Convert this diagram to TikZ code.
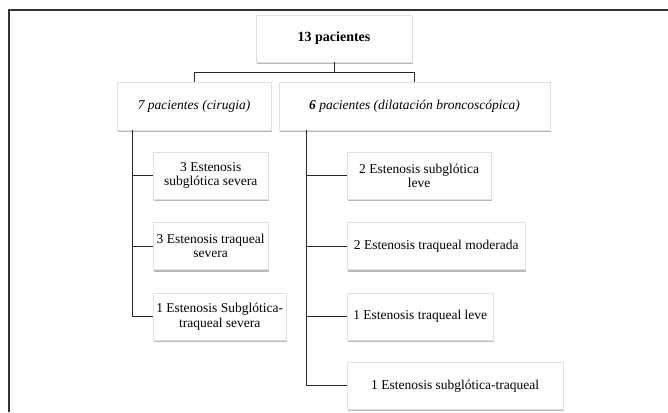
\documentclass[tikz,border=0pt]{standalone}
\usepackage{fontspec}
\setmainfont{Liberation Serif}
\usetikzlibrary{positioning,shadows}

\tikzset{
  box/.style={draw=black!12, fill=white, drop shadow={shadow xshift=1.2pt, shadow yshift=-2pt, fill=black!50, opacity=.55}, minimum height=47pt, inner sep=2pt, align=center, font=\fontsize{13.5}{14.5}\selectfont},
  link/.style={draw=black!85, line width=1pt},
  frame/.style={draw=black!80, line width=1.5pt},
}

\begin{document}
\begin{tikzpicture}[x=1pt, y=-1pt]
    \useasboundingbox (0,0) rectangle (668,412);
    \draw[frame] (9,412) -- (9,10) -- (668,10);
    \node[box, minimum width=156pt, font=\fontsize{14}{15}\selectfont\bfseries] (total) at (334,38.5) {13 pacientes};
    \node[box, minimum width=154pt, minimum height=48pt, font=\fontsize{13.5}{14.5}\selectfont\itshape] (surg) at (194,106) {7 pacientes (cirugia)};
    \node[box, minimum width=271pt, minimum height=48pt, font=\fontsize{13.5}{14.5}\selectfont\itshape] (dil) at (414.5,106) {\textbf{6} pacientes (dilatación broncoscópica)};
    \node[box, anchor=north west, minimum width=115pt] (surg1) at (153,152) {3 Estenosis\\subglótica severa};
    \node[box, below=23pt of surg1.south west, anchor=north west, minimum width=115pt] (surg2) {3 Estenosis traqueal\\severa};
    \node[box, below=23pt of surg2.south west, anchor=north west, minimum width=133pt] (surg3) {1 Estenosis Subglótica-\\traqueal severa};
    \node[box, anchor=north west, minimum width=144pt] (dil1) at (347,152) {2 Estenosis subglótica\\leve};
    \node[box, below=23pt of dil1.south west, anchor=north west, minimum width=178pt] (dil2) {2 Estenosis traqueal moderada};
    \node[box, below=23pt of dil2.south west, anchor=north west, minimum width=146pt] (dil3) {1 Estenosis traqueal leve};
    \node[box, below=22pt of dil3.south west, anchor=north west, minimum width=216pt] (dil4) {1 Estenosis subglótica-traqueal};
    \coordinate (split) at ([yshift=-10pt]total.south);
    \coordinate (surgspine) at ([xshift=16pt]surg.south west);
    \coordinate (dilspine) at ([xshift=28pt]dil.south west);
    \draw[link] (total.south) -- (split);
    \draw[link] (split) -| (surg.north);
    \draw[link] (split) -| (dil.north);
    \foreach \c in {surg1,surg2,surg3}
      \draw[link] (surgspine) |- (\c.west);
    \foreach \c in {dil1,dil2,dil3,dil4}
      \draw[link] (dilspine) |- (\c.west);
\end{tikzpicture}
\end{document}
